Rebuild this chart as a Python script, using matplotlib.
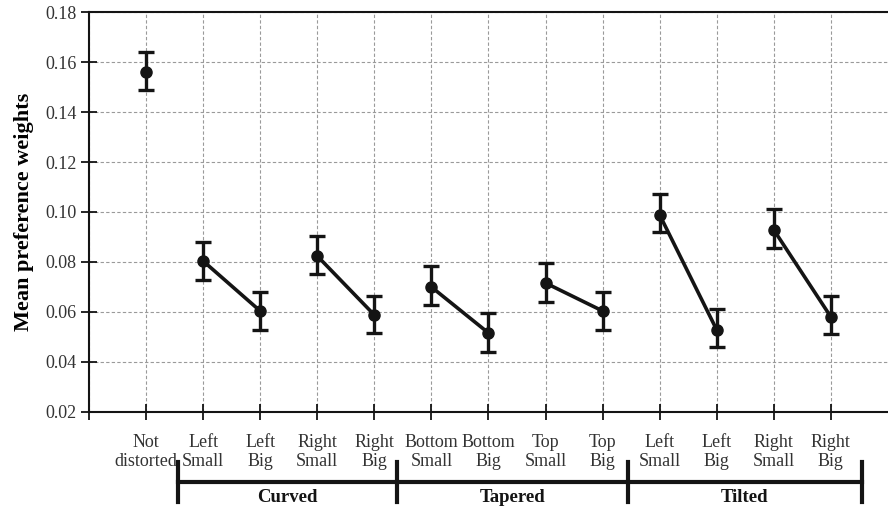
import numpy as np
import matplotlib.pyplot as plt

# datos
etiquetas = ['Not\ndistorted', 'Left\nSmall', 'Left\nBig', 'Right\nSmall', 'Right\nBig',
             'Bottom\nSmall', 'Bottom\nBig', 'Top\nSmall', 'Top\nBig',
             'Left\nSmall', 'Left\nBig', 'Right\nSmall', 'Right\nBig']
medias = [0.156, 0.0804, 0.0604, 0.0824, 0.0588,
          0.0700, 0.0516, 0.0716, 0.0604,
          0.0988, 0.0528, 0.0928, 0.0580]
error_sup = [0.0080, 0.0076, 0.0076, 0.0080, 0.0076,
             0.0084, 0.0080, 0.0080, 0.0076,
             0.0084, 0.0084, 0.0084, 0.0084]
error_inf = [0.0070, 0.0076, 0.0076, 0.0072, 0.0072,
             0.0072, 0.0076, 0.0076, 0.0076,
             0.0068, 0.0068, 0.0072, 0.0068]
grupos = ['Curved', 'Tapered', 'Tilted']
limites_grupos = [1.556, 5.40, 9.44, 13.55]
pares = [(1, 2), (3, 4), (5, 6), (7, 8), (9, 10), (11, 12)]

plt.rcParams['font.family'] = ['Liberation Serif', 'DejaVu Serif']
color = '#141414'

fig = plt.figure(figsize=(8.88, 5.09), dpi=100)
ax = fig.add_axes([0.1002, 0.1906, 0.8998, 0.7858])

x = np.arange(1, len(medias) + 1)

# lineas entre pares
for i, j in pares:
    ax.plot([x[i], x[j]], [medias[i], medias[j]], color=color, lw=2.6, zorder=3)

ax.errorbar(x, medias, yerr=[error_inf, error_sup], fmt='o', color=color,
            ms=8, elinewidth=2.4, capsize=6, capthick=2.4, zorder=4)

ax.set_xlim(0, 14)
ax.set_ylim(0.02, 0.18)
ax.set_yticks(np.arange(0.02, 0.181, 0.02))
ax.set_yticklabels([f'{v:.2f}' for v in np.arange(0.02, 0.181, 0.02)])
ax.set_xticks(np.arange(0, 14))
ax.set_xticklabels([''] + etiquetas, linespacing=1.2)

ax.grid(True, color='#9a9a9a', ls=(0, (3, 2)), lw=0.8)
ax.set_axisbelow(True)
ax.tick_params(direction='inout', length=11, width=1.3, labelsize=13, colors=color)
ax.tick_params(axis='x', pad=10, labelcolor='#333333')
ax.tick_params(axis='y', labelcolor='#333333')
for lado in ['left', 'bottom', 'top']:
    ax.spines[lado].set_linewidth(1.5)
    ax.spines[lado].set_color(color)
ax.spines['right'].set_visible(False)

ax.set_ylabel('Mean preference weights', fontsize=16, fontweight='bold', labelpad=8)

# corchetes de los grupos
tr = ax.get_xaxis_transform()
for k, nombre in enumerate(grupos):
    x0, x1 = limites_grupos[k], limites_grupos[k + 1]
    ax.plot([x0, x1], [-0.175, -0.175], color=color, lw=3, transform=tr, clip_on=False)
    ax.text((x0 + x1) / 2, -0.213, nombre, transform=tr, ha='center', va='center',
            fontsize=13.5, fontweight='bold', color=color)
for xb in limites_grupos:
    ax.plot([xb, xb], [-0.125, -0.225], color=color, lw=3, transform=tr, clip_on=False)

plt.savefig('out.png', dpi=100)
